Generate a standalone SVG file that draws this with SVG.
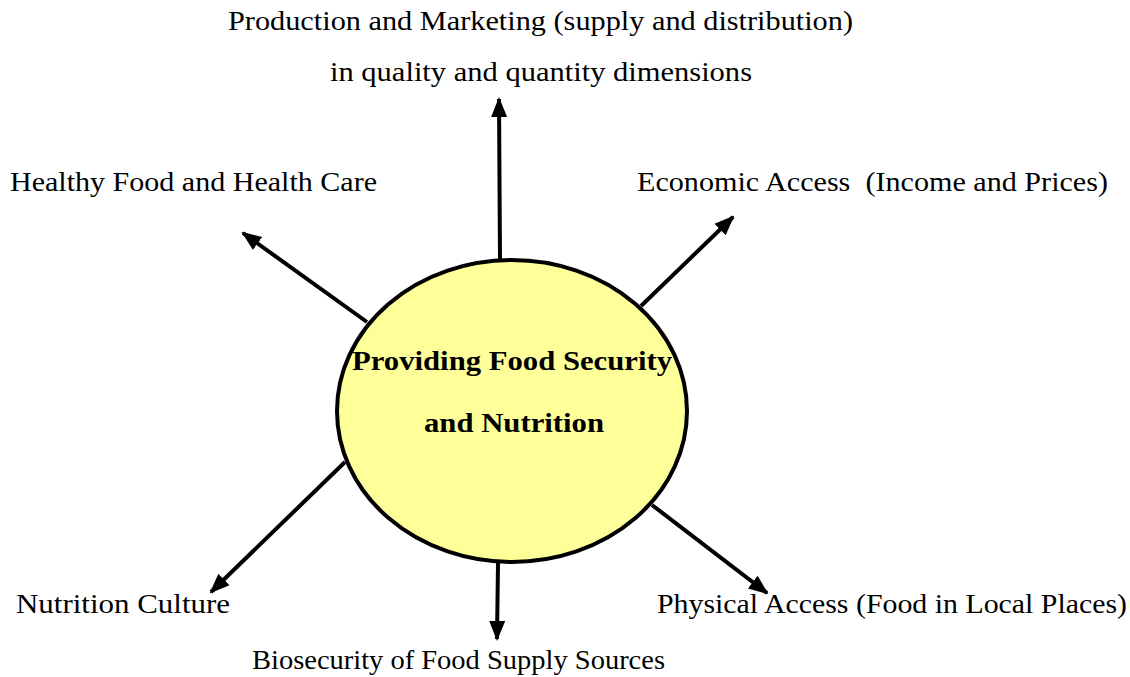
<svg xmlns="http://www.w3.org/2000/svg" width="1130" height="677" viewBox="0 0 1130 677">
<style>
.lbl{font-family:"Liberation Serif","Times New Roman",serif;font-size:28px;fill:#000}
.ctr{font-family:"Liberation Serif","Times New Roman",serif;font-size:28px;font-weight:bold;fill:#000}
.con{stroke:#000;stroke-width:4;fill:none;marker-end:url(#ah)}
</style>
<defs>
<marker id="ah" markerUnits="userSpaceOnUse" markerWidth="20" markerHeight="20" viewBox="0 0 20 20" refX="18" refY="10" orient="auto">
<path d="M0,2 L20,10 L0,18 Z" fill="#000"/>
</marker>
</defs>
<rect width="1130" height="677" fill="#fff"/>
<g id="connectors">
<line class="con" x1="500" y1="260" x2="499" y2="99"/>
<line class="con" x1="367" y1="322" x2="243" y2="233"/>
<line class="con" x1="641" y1="306" x2="733" y2="217"/>
<line class="con" x1="345" y1="462" x2="211" y2="592"/>
<line class="con" x1="498" y1="563" x2="497" y2="639"/>
<line class="con" x1="652" y1="505" x2="767" y2="593"/>
</g>
<g id="center">
<ellipse cx="512" cy="411" rx="175" ry="151" fill="#ffff99" stroke="#000" stroke-width="4"/>
<text class="ctr" x="352" y="370" textLength="320" lengthAdjust="spacingAndGlyphs">Providing Food Security</text>
<text class="ctr" x="424" y="432" textLength="180" lengthAdjust="spacingAndGlyphs">and Nutrition</text>
</g>
<g id="production">
<text class="lbl" x="228" y="30" textLength="625" lengthAdjust="spacingAndGlyphs">Production and Marketing (supply and distribution)</text>
<text class="lbl" x="330" y="81" textLength="422" lengthAdjust="spacingAndGlyphs">in quality and quantity dimensions</text>
</g>
<g id="healthy">
<text class="lbl" x="10" y="191" textLength="367" lengthAdjust="spacingAndGlyphs">Healthy Food and Health Care</text>
</g>
<g id="economic">
<text class="lbl" x="637" y="191" textLength="471" lengthAdjust="spacingAndGlyphs" xml:space="preserve">Economic Access  (Income and Prices)</text>
</g>
<g id="nutrition">
<text class="lbl" x="16" y="613" textLength="214" lengthAdjust="spacingAndGlyphs">Nutrition Culture</text>
</g>
<g id="biosecurity">
<text class="lbl" x="252" y="669" textLength="413" lengthAdjust="spacingAndGlyphs">Biosecurity of Food Supply Sources</text>
</g>
<g id="physical">
<text class="lbl" x="657" y="613" textLength="470" lengthAdjust="spacingAndGlyphs">Physical Access (Food in Local Places)</text>
</g>
</svg>
